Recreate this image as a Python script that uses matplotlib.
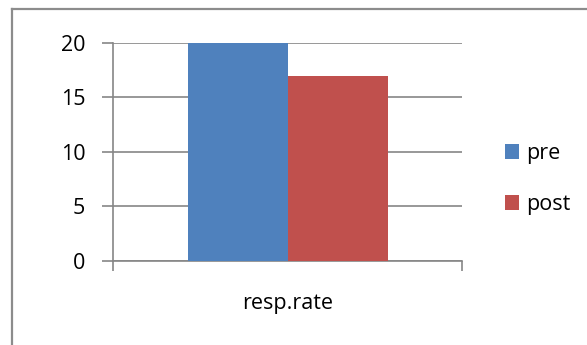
import matplotlib
matplotlib.use("Agg")
import matplotlib.pyplot as plt
from matplotlib.lines import Line2D
from matplotlib.patches import Patch

categories = ["resp.rate"]
series_names = ["pre", "post"]
pre_values = [20]
post_values = [17]
y_ticks = [0, 5, 10, 15, 20]

colors = ["#4F81BD", "#C0504D"]
grid_color = "#868686"
plt.rcParams["font.family"] = ["Open Sans", "DejaVu Sans"]
FS = 15.5

W, H = 587, 345
fig = plt.figure(figsize=(W / 100, H / 100), dpi=100)

# chart frame (only left and top edges fall inside the image)
fig.add_artist(Line2D([11.5 / W, 11.5 / W], [0, 1 - 8.5 / H], transform=fig.transFigure,
                      color="#8c8c8c", lw=1.6))
fig.add_artist(Line2D([11.5 / W, 1], [1 - 8.5 / H, 1 - 8.5 / H], transform=fig.transFigure,
                      color="#8c8c8c", lw=1.6))

left, right, top, bottom = 113, 462, 43, 261
ax = fig.add_axes([left / W, 1 - bottom / H, (right - left) / W, (bottom - top) / H])

bar_w = 100 / (right - left)
x = list(range(len(categories)))
ax.bar([xi - bar_w / 2 for xi in x], pre_values, width=bar_w, color=colors[0], zorder=3)
ax.bar([xi + bar_w / 2 for xi in x], post_values, width=bar_w, color=colors[1], zorder=3)

ax.set_xlim(-0.5, 0.5)
ax.set_ylim(0, 20)
ax.set_yticks(y_ticks)
ax.set_yticklabels([str(t) for t in y_ticks], fontsize=FS)
ax.yaxis.grid(True, color=grid_color, lw=1.2, zorder=0)

for side in ["top", "right"]:
    ax.spines[side].set_visible(False)
ax.spines["left"].set_color(grid_color)
ax.spines["left"].set_linewidth(1.2)
ax.spines["bottom"].set_color(grid_color)
ax.spines["bottom"].set_linewidth(1.2)
ax.tick_params(axis="y", length=8, width=1.2, color=grid_color, pad=12)

# category boundary ticks on the x axis
ax.set_xticks([-0.5, 0.5])
ax.set_xticklabels(["", ""])
ax.tick_params(axis="x", length=7, width=1.2, color=grid_color)
for xi, name in zip(x, categories):
    ax.annotate(name, xy=(xi, 0), xycoords=("data", "axes fraction"),
                xytext=(0, -(304 - bottom) * 0.72), textcoords="offset points",
                ha="center", va="center", fontsize=FS)

handles = [Patch(facecolor=c, edgecolor="none") for c in colors]
fig.legend(handles, series_names, loc="center left",
           bbox_to_anchor=(505 / W, 1 - 179 / H), frameon=False, fontsize=FS,
           borderaxespad=0, borderpad=0,
           handlelength=0.65, handleheight=0.65, handletextpad=0.35, labelspacing=1.4)

fig.savefig("out.png", dpi=100)
